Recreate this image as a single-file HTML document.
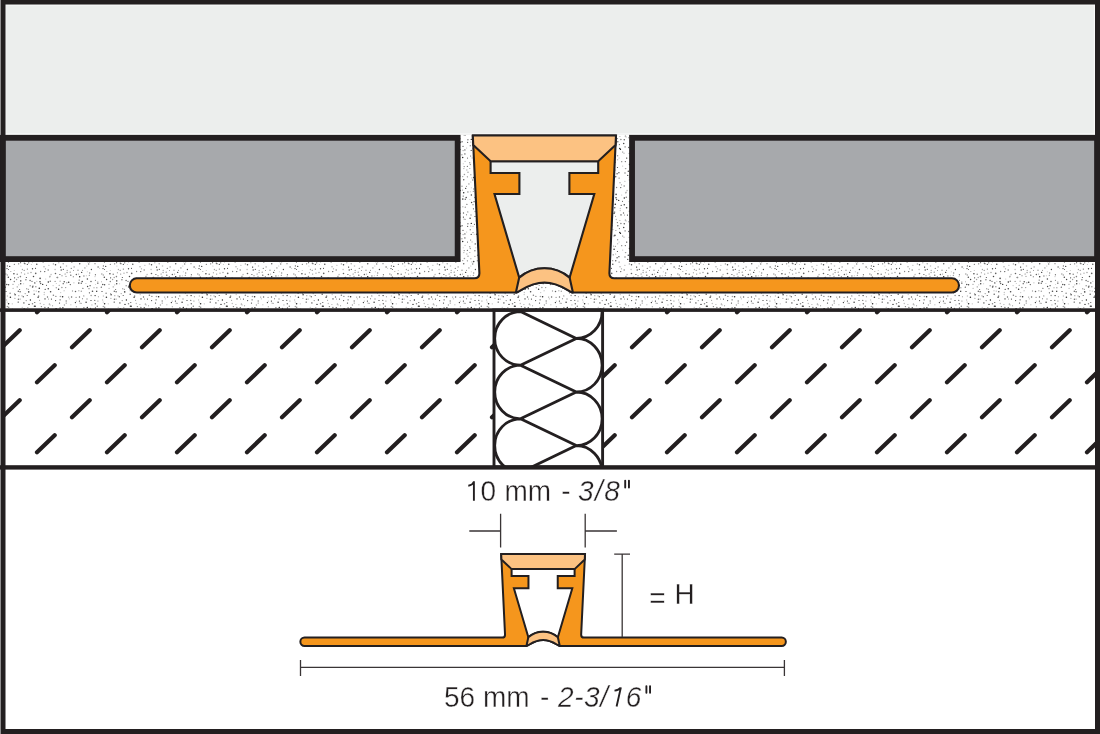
<!DOCTYPE html><html><head><meta charset="utf-8"><style>html,body{margin:0;padding:0;background:#fff;}svg{display:block;will-change:transform}</style></head><body><svg width="1100" height="734" viewBox="0 0 1100 734"><defs><pattern id="st" width="96" height="84" patternUnits="userSpaceOnUse"><rect width="96" height="84" fill="#fff"/><circle cx="3.3" cy="2.9" r="0.57" fill="#282828"/><circle cx="0.2" cy="6.8" r="0.74" fill="#464646"/><circle cx="1.2" cy="8.8" r="0.58" fill="#bebebe"/><circle cx="2.1" cy="15.1" r="0.74" fill="#646464"/><circle cx="3.6" cy="16.2" r="0.55" fill="#bebebe"/><circle cx="1.8" cy="30.1" r="0.69" fill="#828282"/><circle cx="1.9" cy="31.6" r="0.50" fill="#282828"/><circle cx="0.9" cy="35.8" r="0.50" fill="#464646"/><circle cx="0.7" cy="39.3" r="0.76" fill="#464646"/><circle cx="2.4" cy="44.7" r="0.53" fill="#828282"/><circle cx="1.9" cy="49.0" r="0.61" fill="#828282"/><circle cx="1.3" cy="54.2" r="0.74" fill="#828282"/><circle cx="3.6" cy="59.5" r="0.68" fill="#646464"/><circle cx="0.7" cy="62.8" r="0.57" fill="#828282"/><circle cx="0.5" cy="68.4" r="0.56" fill="#282828"/><circle cx="3.2" cy="71.2" r="0.54" fill="#a0a0a0"/><circle cx="3.5" cy="75.8" r="0.67" fill="#464646"/><circle cx="3.4" cy="78.5" r="0.55" fill="#282828"/><circle cx="2.4" cy="82.3" r="0.61" fill="#bebebe"/><circle cx="4.2" cy="3.2" r="0.64" fill="#646464"/><circle cx="5.1" cy="6.6" r="0.51" fill="#a0a0a0"/><circle cx="7.4" cy="13.9" r="0.63" fill="#646464"/><circle cx="7.0" cy="16.6" r="0.68" fill="#464646"/><circle cx="5.8" cy="21.9" r="0.77" fill="#a0a0a0"/><circle cx="7.3" cy="23.1" r="0.73" fill="#a0a0a0"/><circle cx="5.5" cy="29.7" r="0.50" fill="#a0a0a0"/><circle cx="6.8" cy="32.5" r="0.72" fill="#464646"/><circle cx="5.3" cy="35.2" r="0.60" fill="#464646"/><circle cx="6.0" cy="39.5" r="0.58" fill="#282828"/><circle cx="7.4" cy="44.0" r="0.66" fill="#bebebe"/><circle cx="6.6" cy="48.0" r="0.63" fill="#bebebe"/><circle cx="7.2" cy="50.1" r="0.63" fill="#bebebe"/><circle cx="7.3" cy="54.5" r="0.74" fill="#a0a0a0"/><circle cx="6.2" cy="60.8" r="0.60" fill="#a0a0a0"/><circle cx="4.7" cy="61.5" r="0.56" fill="#464646"/><circle cx="4.4" cy="67.2" r="0.64" fill="#bebebe"/><circle cx="6.3" cy="70.0" r="0.79" fill="#a0a0a0"/><circle cx="6.2" cy="73.4" r="0.52" fill="#646464"/><circle cx="6.7" cy="79.4" r="0.72" fill="#bebebe"/><circle cx="6.8" cy="83.4" r="0.66" fill="#282828"/><circle cx="8.0" cy="0.3" r="0.51" fill="#464646"/><circle cx="8.5" cy="6.0" r="0.51" fill="#464646"/><circle cx="8.4" cy="10.2" r="0.51" fill="#646464"/><circle cx="9.7" cy="14.4" r="0.70" fill="#464646"/><circle cx="8.5" cy="17.4" r="0.51" fill="#464646"/><circle cx="10.8" cy="19.5" r="0.60" fill="#a0a0a0"/><circle cx="8.3" cy="25.3" r="0.74" fill="#464646"/><circle cx="10.6" cy="27.4" r="0.73" fill="#464646"/><circle cx="8.6" cy="32.7" r="0.69" fill="#464646"/><circle cx="10.1" cy="41.2" r="0.74" fill="#828282"/><circle cx="10.4" cy="45.2" r="0.77" fill="#282828"/><circle cx="8.6" cy="51.8" r="0.78" fill="#282828"/><circle cx="8.7" cy="55.2" r="0.70" fill="#828282"/><circle cx="8.3" cy="59.7" r="0.75" fill="#282828"/><circle cx="9.2" cy="63.1" r="0.56" fill="#a0a0a0"/><circle cx="9.5" cy="65.4" r="0.73" fill="#464646"/><circle cx="8.9" cy="69.2" r="0.73" fill="#bebebe"/><circle cx="8.3" cy="73.0" r="0.77" fill="#282828"/><circle cx="8.9" cy="79.4" r="0.69" fill="#bebebe"/><circle cx="10.9" cy="81.7" r="0.71" fill="#464646"/><circle cx="14.4" cy="6.8" r="0.70" fill="#646464"/><circle cx="14.3" cy="12.3" r="0.58" fill="#646464"/><circle cx="14.3" cy="18.5" r="0.54" fill="#bebebe"/><circle cx="13.9" cy="21.8" r="0.80" fill="#464646"/><circle cx="14.6" cy="25.8" r="0.62" fill="#464646"/><circle cx="14.3" cy="29.5" r="0.72" fill="#828282"/><circle cx="13.0" cy="32.2" r="0.51" fill="#646464"/><circle cx="13.1" cy="36.4" r="0.72" fill="#bebebe"/><circle cx="14.6" cy="41.5" r="0.62" fill="#a0a0a0"/><circle cx="15.1" cy="42.7" r="0.71" fill="#282828"/><circle cx="14.9" cy="46.4" r="0.53" fill="#a0a0a0"/><circle cx="12.3" cy="51.8" r="0.63" fill="#bebebe"/><circle cx="12.4" cy="56.8" r="0.57" fill="#bebebe"/><circle cx="11.8" cy="62.4" r="0.59" fill="#a0a0a0"/><circle cx="13.3" cy="65.3" r="0.80" fill="#464646"/><circle cx="12.6" cy="70.3" r="0.57" fill="#bebebe"/><circle cx="11.8" cy="74.5" r="0.54" fill="#464646"/><circle cx="13.4" cy="77.2" r="0.70" fill="#464646"/><circle cx="13.5" cy="81.3" r="0.65" fill="#a0a0a0"/><circle cx="16.9" cy="2.9" r="0.76" fill="#828282"/><circle cx="16.0" cy="4.4" r="0.79" fill="#bebebe"/><circle cx="18.9" cy="8.5" r="0.65" fill="#bebebe"/><circle cx="18.7" cy="11.8" r="0.59" fill="#646464"/><circle cx="17.2" cy="22.3" r="0.73" fill="#828282"/><circle cx="18.2" cy="25.5" r="0.75" fill="#a0a0a0"/><circle cx="16.6" cy="27.5" r="0.73" fill="#a0a0a0"/><circle cx="18.7" cy="32.8" r="0.60" fill="#bebebe"/><circle cx="17.3" cy="34.9" r="0.79" fill="#bebebe"/><circle cx="18.3" cy="39.3" r="0.74" fill="#646464"/><circle cx="18.8" cy="43.7" r="0.62" fill="#a0a0a0"/><circle cx="18.4" cy="47.2" r="0.70" fill="#646464"/><circle cx="18.2" cy="50.1" r="0.72" fill="#464646"/><circle cx="17.2" cy="58.9" r="0.72" fill="#828282"/><circle cx="15.8" cy="63.2" r="0.67" fill="#828282"/><circle cx="15.7" cy="66.7" r="0.69" fill="#282828"/><circle cx="16.3" cy="73.4" r="0.76" fill="#828282"/><circle cx="17.1" cy="79.1" r="0.71" fill="#282828"/><circle cx="17.2" cy="82.5" r="0.75" fill="#828282"/><circle cx="21.6" cy="1.6" r="0.67" fill="#464646"/><circle cx="20.7" cy="5.6" r="0.73" fill="#646464"/><circle cx="20.6" cy="10.7" r="0.61" fill="#646464"/><circle cx="20.9" cy="14.1" r="0.51" fill="#bebebe"/><circle cx="22.4" cy="17.5" r="0.67" fill="#a0a0a0"/><circle cx="21.4" cy="20.7" r="0.56" fill="#828282"/><circle cx="20.4" cy="24.6" r="0.80" fill="#828282"/><circle cx="20.7" cy="28.9" r="0.78" fill="#646464"/><circle cx="20.7" cy="31.7" r="0.77" fill="#464646"/><circle cx="19.6" cy="37.5" r="0.59" fill="#646464"/><circle cx="20.1" cy="39.8" r="0.75" fill="#646464"/><circle cx="22.0" cy="43.8" r="0.61" fill="#a0a0a0"/><circle cx="20.1" cy="47.1" r="0.71" fill="#a0a0a0"/><circle cx="22.2" cy="55.2" r="0.52" fill="#a0a0a0"/><circle cx="20.2" cy="59.7" r="0.61" fill="#464646"/><circle cx="21.0" cy="63.1" r="0.69" fill="#828282"/><circle cx="22.7" cy="66.1" r="0.59" fill="#464646"/><circle cx="22.1" cy="75.2" r="0.56" fill="#464646"/><circle cx="20.5" cy="79.2" r="0.65" fill="#a0a0a0"/><circle cx="21.5" cy="83.0" r="0.73" fill="#bebebe"/><circle cx="24.1" cy="1.7" r="0.65" fill="#282828"/><circle cx="25.4" cy="4.5" r="0.54" fill="#282828"/><circle cx="24.2" cy="11.1" r="0.51" fill="#282828"/><circle cx="24.9" cy="11.7" r="0.64" fill="#464646"/><circle cx="24.2" cy="18.2" r="0.56" fill="#646464"/><circle cx="24.7" cy="22.1" r="0.55" fill="#828282"/><circle cx="26.3" cy="25.4" r="0.51" fill="#282828"/><circle cx="25.9" cy="27.7" r="0.79" fill="#828282"/><circle cx="23.6" cy="31.8" r="0.51" fill="#bebebe"/><circle cx="26.7" cy="36.7" r="0.70" fill="#a0a0a0"/><circle cx="25.2" cy="41.6" r="0.68" fill="#a0a0a0"/><circle cx="23.3" cy="44.7" r="0.71" fill="#646464"/><circle cx="26.2" cy="48.6" r="0.60" fill="#828282"/><circle cx="23.9" cy="50.9" r="0.63" fill="#282828"/><circle cx="24.2" cy="56.7" r="0.70" fill="#646464"/><circle cx="23.2" cy="60.2" r="0.57" fill="#bebebe"/><circle cx="26.0" cy="63.6" r="0.56" fill="#464646"/><circle cx="24.2" cy="67.5" r="0.54" fill="#464646"/><circle cx="23.6" cy="70.7" r="0.51" fill="#828282"/><circle cx="23.5" cy="73.7" r="0.73" fill="#828282"/><circle cx="24.3" cy="78.7" r="0.64" fill="#a0a0a0"/><circle cx="25.9" cy="82.6" r="0.72" fill="#bebebe"/><circle cx="29.6" cy="2.6" r="0.62" fill="#282828"/><circle cx="29.5" cy="4.7" r="0.72" fill="#282828"/><circle cx="28.7" cy="10.8" r="0.63" fill="#646464"/><circle cx="27.3" cy="12.4" r="0.58" fill="#464646"/><circle cx="27.3" cy="17.1" r="0.56" fill="#646464"/><circle cx="28.0" cy="21.2" r="0.65" fill="#a0a0a0"/><circle cx="30.1" cy="28.5" r="0.74" fill="#646464"/><circle cx="30.1" cy="33.7" r="0.50" fill="#282828"/><circle cx="28.3" cy="37.2" r="0.52" fill="#646464"/><circle cx="28.7" cy="39.9" r="0.79" fill="#464646"/><circle cx="27.2" cy="43.5" r="0.55" fill="#464646"/><circle cx="30.4" cy="48.0" r="0.69" fill="#282828"/><circle cx="29.0" cy="52.4" r="0.68" fill="#282828"/><circle cx="27.8" cy="55.6" r="0.65" fill="#a0a0a0"/><circle cx="29.2" cy="60.3" r="0.54" fill="#a0a0a0"/><circle cx="28.5" cy="62.2" r="0.61" fill="#828282"/><circle cx="29.4" cy="67.0" r="0.53" fill="#a0a0a0"/><circle cx="27.4" cy="69.8" r="0.55" fill="#a0a0a0"/><circle cx="30.2" cy="72.9" r="0.60" fill="#a0a0a0"/><circle cx="30.3" cy="76.8" r="0.55" fill="#464646"/><circle cx="28.9" cy="82.9" r="0.63" fill="#a0a0a0"/><circle cx="34.3" cy="2.8" r="0.53" fill="#282828"/><circle cx="32.0" cy="6.7" r="0.50" fill="#646464"/><circle cx="32.5" cy="10.1" r="0.65" fill="#bebebe"/><circle cx="31.4" cy="12.6" r="0.52" fill="#bebebe"/><circle cx="32.5" cy="16.7" r="0.68" fill="#464646"/><circle cx="31.0" cy="20.4" r="0.73" fill="#a0a0a0"/><circle cx="33.5" cy="24.5" r="0.77" fill="#464646"/><circle cx="32.0" cy="29.4" r="0.58" fill="#646464"/><circle cx="33.0" cy="34.0" r="0.54" fill="#282828"/><circle cx="32.6" cy="35.0" r="0.79" fill="#464646"/><circle cx="34.0" cy="38.7" r="0.53" fill="#a0a0a0"/><circle cx="34.2" cy="42.3" r="0.78" fill="#646464"/><circle cx="32.5" cy="51.8" r="0.72" fill="#828282"/><circle cx="34.4" cy="54.2" r="0.74" fill="#646464"/><circle cx="34.0" cy="60.9" r="0.58" fill="#646464"/><circle cx="34.2" cy="64.5" r="0.61" fill="#646464"/><circle cx="32.2" cy="67.7" r="0.64" fill="#bebebe"/><circle cx="32.2" cy="70.4" r="0.54" fill="#282828"/><circle cx="32.9" cy="75.0" r="0.74" fill="#282828"/><circle cx="31.7" cy="77.5" r="0.59" fill="#828282"/><circle cx="32.0" cy="82.6" r="0.56" fill="#a0a0a0"/><circle cx="37.2" cy="2.8" r="0.59" fill="#646464"/><circle cx="36.7" cy="8.7" r="0.60" fill="#828282"/><circle cx="36.8" cy="12.2" r="0.71" fill="#464646"/><circle cx="35.5" cy="16.3" r="0.56" fill="#282828"/><circle cx="35.7" cy="21.4" r="0.80" fill="#646464"/><circle cx="36.8" cy="29.3" r="0.60" fill="#bebebe"/><circle cx="34.8" cy="30.9" r="0.67" fill="#282828"/><circle cx="35.9" cy="34.8" r="0.51" fill="#282828"/><circle cx="36.3" cy="39.1" r="0.71" fill="#bebebe"/><circle cx="38.1" cy="45.3" r="0.69" fill="#282828"/><circle cx="34.8" cy="50.6" r="0.51" fill="#282828"/><circle cx="35.1" cy="54.2" r="0.77" fill="#282828"/><circle cx="35.9" cy="57.8" r="0.74" fill="#828282"/><circle cx="36.9" cy="61.6" r="0.58" fill="#a0a0a0"/><circle cx="38.0" cy="67.9" r="0.69" fill="#828282"/><circle cx="35.0" cy="73.2" r="0.71" fill="#828282"/><circle cx="37.5" cy="78.1" r="0.55" fill="#a0a0a0"/><circle cx="38.1" cy="81.2" r="0.76" fill="#282828"/><circle cx="39.7" cy="1.9" r="0.50" fill="#a0a0a0"/><circle cx="41.1" cy="5.7" r="0.76" fill="#646464"/><circle cx="39.7" cy="8.8" r="0.78" fill="#646464"/><circle cx="40.6" cy="19.5" r="0.65" fill="#828282"/><circle cx="40.1" cy="26.4" r="0.78" fill="#464646"/><circle cx="40.0" cy="29.8" r="0.69" fill="#282828"/><circle cx="40.6" cy="31.5" r="0.75" fill="#646464"/><circle cx="39.3" cy="36.2" r="0.79" fill="#282828"/><circle cx="38.8" cy="39.8" r="0.70" fill="#464646"/><circle cx="38.7" cy="44.0" r="0.61" fill="#282828"/><circle cx="39.6" cy="48.3" r="0.55" fill="#828282"/><circle cx="40.3" cy="51.4" r="0.76" fill="#bebebe"/><circle cx="41.4" cy="54.6" r="0.72" fill="#828282"/><circle cx="41.8" cy="57.7" r="0.74" fill="#646464"/><circle cx="39.9" cy="62.5" r="0.52" fill="#828282"/><circle cx="38.9" cy="67.4" r="0.79" fill="#464646"/><circle cx="41.7" cy="71.7" r="0.55" fill="#464646"/><circle cx="41.6" cy="75.8" r="0.69" fill="#bebebe"/><circle cx="39.3" cy="78.3" r="0.59" fill="#828282"/><circle cx="41.4" cy="83.5" r="0.54" fill="#282828"/><circle cx="42.9" cy="4.7" r="0.67" fill="#464646"/><circle cx="43.1" cy="10.1" r="0.59" fill="#646464"/><circle cx="44.0" cy="14.8" r="0.57" fill="#646464"/><circle cx="45.5" cy="16.8" r="0.65" fill="#a0a0a0"/><circle cx="44.8" cy="19.6" r="0.54" fill="#282828"/><circle cx="45.7" cy="27.0" r="0.55" fill="#bebebe"/><circle cx="42.7" cy="32.4" r="0.68" fill="#282828"/><circle cx="45.2" cy="37.3" r="0.67" fill="#464646"/><circle cx="44.3" cy="40.5" r="0.63" fill="#bebebe"/><circle cx="44.2" cy="42.6" r="0.67" fill="#bebebe"/><circle cx="45.0" cy="46.9" r="0.80" fill="#828282"/><circle cx="43.9" cy="52.5" r="0.55" fill="#a0a0a0"/><circle cx="44.9" cy="55.4" r="0.76" fill="#828282"/><circle cx="43.4" cy="60.6" r="0.59" fill="#646464"/><circle cx="43.8" cy="64.5" r="0.78" fill="#282828"/><circle cx="44.5" cy="65.4" r="0.65" fill="#282828"/><circle cx="43.1" cy="74.0" r="0.59" fill="#bebebe"/><circle cx="45.7" cy="77.7" r="0.67" fill="#828282"/><circle cx="49.6" cy="0.6" r="0.76" fill="#a0a0a0"/><circle cx="49.0" cy="5.0" r="0.77" fill="#828282"/><circle cx="48.9" cy="13.2" r="0.54" fill="#a0a0a0"/><circle cx="48.2" cy="18.0" r="0.76" fill="#828282"/><circle cx="49.7" cy="24.7" r="0.73" fill="#a0a0a0"/><circle cx="48.3" cy="30.0" r="0.74" fill="#282828"/><circle cx="46.5" cy="33.2" r="0.56" fill="#464646"/><circle cx="48.3" cy="36.7" r="0.78" fill="#464646"/><circle cx="47.5" cy="45.0" r="0.66" fill="#646464"/><circle cx="48.5" cy="47.0" r="0.53" fill="#828282"/><circle cx="49.3" cy="51.9" r="0.52" fill="#464646"/><circle cx="48.3" cy="55.7" r="0.79" fill="#646464"/><circle cx="47.7" cy="59.6" r="0.77" fill="#464646"/><circle cx="49.1" cy="62.9" r="0.79" fill="#a0a0a0"/><circle cx="46.7" cy="68.0" r="0.59" fill="#646464"/><circle cx="48.0" cy="69.2" r="0.74" fill="#bebebe"/><circle cx="49.3" cy="77.6" r="0.54" fill="#464646"/><circle cx="46.7" cy="82.1" r="0.57" fill="#bebebe"/><circle cx="52.3" cy="3.3" r="0.74" fill="#464646"/><circle cx="51.8" cy="7.4" r="0.53" fill="#282828"/><circle cx="53.3" cy="9.2" r="0.58" fill="#bebebe"/><circle cx="53.3" cy="11.9" r="0.56" fill="#828282"/><circle cx="51.1" cy="22.4" r="0.77" fill="#bebebe"/><circle cx="50.1" cy="24.4" r="0.79" fill="#bebebe"/><circle cx="50.3" cy="29.3" r="0.78" fill="#828282"/><circle cx="53.1" cy="33.6" r="0.61" fill="#bebebe"/><circle cx="50.6" cy="39.7" r="0.80" fill="#464646"/><circle cx="53.4" cy="43.2" r="0.80" fill="#828282"/><circle cx="51.4" cy="47.1" r="0.54" fill="#282828"/><circle cx="50.1" cy="52.9" r="0.68" fill="#bebebe"/><circle cx="52.6" cy="53.8" r="0.53" fill="#828282"/><circle cx="52.7" cy="63.5" r="0.68" fill="#646464"/><circle cx="53.2" cy="69.3" r="0.66" fill="#828282"/><circle cx="50.7" cy="74.1" r="0.66" fill="#282828"/><circle cx="53.4" cy="79.1" r="0.60" fill="#bebebe"/><circle cx="53.5" cy="80.4" r="0.73" fill="#282828"/><circle cx="55.5" cy="2.0" r="0.68" fill="#646464"/><circle cx="55.3" cy="6.5" r="0.64" fill="#bebebe"/><circle cx="55.2" cy="9.5" r="0.58" fill="#464646"/><circle cx="55.5" cy="12.7" r="0.75" fill="#464646"/><circle cx="55.1" cy="17.6" r="0.77" fill="#bebebe"/><circle cx="55.5" cy="21.5" r="0.79" fill="#646464"/><circle cx="57.3" cy="25.4" r="0.74" fill="#282828"/><circle cx="55.1" cy="29.4" r="0.58" fill="#828282"/><circle cx="56.3" cy="31.4" r="0.52" fill="#bebebe"/><circle cx="56.3" cy="35.7" r="0.70" fill="#a0a0a0"/><circle cx="55.9" cy="44.3" r="0.63" fill="#646464"/><circle cx="55.6" cy="48.6" r="0.61" fill="#464646"/><circle cx="56.1" cy="56.8" r="0.77" fill="#282828"/><circle cx="54.9" cy="59.9" r="0.61" fill="#282828"/><circle cx="55.6" cy="63.1" r="0.71" fill="#282828"/><circle cx="55.3" cy="67.4" r="0.60" fill="#828282"/><circle cx="55.5" cy="70.9" r="0.51" fill="#282828"/><circle cx="55.3" cy="73.0" r="0.70" fill="#646464"/><circle cx="55.2" cy="76.9" r="0.69" fill="#828282"/><circle cx="54.4" cy="81.6" r="0.65" fill="#282828"/><circle cx="58.9" cy="1.1" r="0.71" fill="#646464"/><circle cx="60.5" cy="4.5" r="0.67" fill="#bebebe"/><circle cx="58.8" cy="10.7" r="0.72" fill="#bebebe"/><circle cx="60.6" cy="15.1" r="0.68" fill="#282828"/><circle cx="61.2" cy="18.0" r="0.69" fill="#464646"/><circle cx="59.9" cy="22.5" r="0.59" fill="#464646"/><circle cx="57.9" cy="25.5" r="0.63" fill="#bebebe"/><circle cx="60.1" cy="29.2" r="0.64" fill="#a0a0a0"/><circle cx="59.2" cy="33.3" r="0.56" fill="#828282"/><circle cx="58.6" cy="37.3" r="0.75" fill="#282828"/><circle cx="60.7" cy="40.6" r="0.56" fill="#bebebe"/><circle cx="60.4" cy="44.6" r="0.75" fill="#a0a0a0"/><circle cx="60.1" cy="47.8" r="0.60" fill="#464646"/><circle cx="59.5" cy="51.1" r="0.63" fill="#464646"/><circle cx="60.1" cy="56.0" r="0.80" fill="#646464"/><circle cx="58.1" cy="58.8" r="0.79" fill="#464646"/><circle cx="60.8" cy="66.8" r="0.74" fill="#828282"/><circle cx="59.5" cy="69.6" r="0.59" fill="#646464"/><circle cx="61.2" cy="73.9" r="0.57" fill="#bebebe"/><circle cx="61.1" cy="79.5" r="0.69" fill="#bebebe"/><circle cx="58.5" cy="80.7" r="0.53" fill="#828282"/><circle cx="64.8" cy="2.0" r="0.80" fill="#646464"/><circle cx="62.1" cy="5.9" r="0.55" fill="#a0a0a0"/><circle cx="62.8" cy="8.5" r="0.53" fill="#282828"/><circle cx="63.2" cy="11.7" r="0.71" fill="#a0a0a0"/><circle cx="63.3" cy="17.3" r="0.64" fill="#464646"/><circle cx="65.1" cy="22.0" r="0.52" fill="#646464"/><circle cx="62.0" cy="23.8" r="0.57" fill="#646464"/><circle cx="64.2" cy="29.8" r="0.71" fill="#464646"/><circle cx="63.2" cy="31.7" r="0.63" fill="#464646"/><circle cx="61.9" cy="35.5" r="0.64" fill="#828282"/><circle cx="64.1" cy="38.7" r="0.55" fill="#a0a0a0"/><circle cx="62.6" cy="44.8" r="0.80" fill="#282828"/><circle cx="64.4" cy="53.0" r="0.68" fill="#a0a0a0"/><circle cx="62.9" cy="55.8" r="0.76" fill="#464646"/><circle cx="61.6" cy="57.9" r="0.76" fill="#646464"/><circle cx="65.1" cy="61.5" r="0.61" fill="#282828"/><circle cx="61.9" cy="66.5" r="0.69" fill="#a0a0a0"/><circle cx="63.2" cy="69.6" r="0.79" fill="#828282"/><circle cx="63.5" cy="73.0" r="0.57" fill="#646464"/><circle cx="62.3" cy="81.8" r="0.60" fill="#646464"/><circle cx="65.5" cy="0.5" r="0.74" fill="#646464"/><circle cx="67.0" cy="4.9" r="0.66" fill="#bebebe"/><circle cx="68.3" cy="8.9" r="0.51" fill="#464646"/><circle cx="66.5" cy="13.9" r="0.76" fill="#bebebe"/><circle cx="67.2" cy="18.4" r="0.64" fill="#a0a0a0"/><circle cx="67.1" cy="20.4" r="0.73" fill="#a0a0a0"/><circle cx="66.0" cy="24.4" r="0.64" fill="#a0a0a0"/><circle cx="68.7" cy="30.2" r="0.72" fill="#282828"/><circle cx="66.8" cy="30.7" r="0.75" fill="#a0a0a0"/><circle cx="65.7" cy="35.6" r="0.60" fill="#828282"/><circle cx="68.6" cy="45.1" r="0.69" fill="#a0a0a0"/><circle cx="66.2" cy="49.0" r="0.73" fill="#828282"/><circle cx="66.2" cy="51.1" r="0.60" fill="#828282"/><circle cx="67.0" cy="58.5" r="0.62" fill="#464646"/><circle cx="67.6" cy="63.0" r="0.56" fill="#464646"/><circle cx="67.2" cy="66.7" r="0.71" fill="#646464"/><circle cx="68.3" cy="71.2" r="0.72" fill="#a0a0a0"/><circle cx="67.9" cy="73.6" r="0.58" fill="#828282"/><circle cx="65.5" cy="78.8" r="0.72" fill="#282828"/><circle cx="65.9" cy="82.6" r="0.75" fill="#828282"/><circle cx="70.2" cy="1.8" r="0.55" fill="#282828"/><circle cx="70.5" cy="6.3" r="0.66" fill="#bebebe"/><circle cx="71.8" cy="10.4" r="0.72" fill="#a0a0a0"/><circle cx="71.3" cy="16.4" r="0.63" fill="#828282"/><circle cx="70.2" cy="20.2" r="0.61" fill="#828282"/><circle cx="70.8" cy="23.2" r="0.64" fill="#464646"/><circle cx="70.3" cy="32.6" r="0.61" fill="#464646"/><circle cx="72.5" cy="39.0" r="0.63" fill="#a0a0a0"/><circle cx="71.6" cy="44.9" r="0.73" fill="#646464"/><circle cx="69.4" cy="46.8" r="0.65" fill="#bebebe"/><circle cx="70.9" cy="52.7" r="0.51" fill="#a0a0a0"/><circle cx="70.3" cy="57.1" r="0.57" fill="#828282"/><circle cx="71.6" cy="58.0" r="0.75" fill="#282828"/><circle cx="71.7" cy="61.8" r="0.76" fill="#828282"/><circle cx="72.2" cy="66.0" r="0.53" fill="#464646"/><circle cx="71.0" cy="70.6" r="0.73" fill="#a0a0a0"/><circle cx="71.0" cy="74.3" r="0.62" fill="#646464"/><circle cx="70.3" cy="77.5" r="0.57" fill="#282828"/><circle cx="70.0" cy="82.2" r="0.59" fill="#a0a0a0"/><circle cx="74.4" cy="1.9" r="0.70" fill="#a0a0a0"/><circle cx="74.6" cy="5.6" r="0.62" fill="#bebebe"/><circle cx="76.4" cy="8.1" r="0.56" fill="#a0a0a0"/><circle cx="74.1" cy="14.9" r="0.62" fill="#828282"/><circle cx="73.5" cy="18.5" r="0.53" fill="#828282"/><circle cx="76.4" cy="22.4" r="0.75" fill="#646464"/><circle cx="73.3" cy="24.7" r="0.52" fill="#464646"/><circle cx="73.9" cy="30.8" r="0.65" fill="#bebebe"/><circle cx="75.5" cy="39.6" r="0.75" fill="#646464"/><circle cx="76.1" cy="45.4" r="0.69" fill="#a0a0a0"/><circle cx="76.3" cy="49.2" r="0.60" fill="#bebebe"/><circle cx="75.4" cy="50.6" r="0.67" fill="#282828"/><circle cx="76.3" cy="54.8" r="0.56" fill="#828282"/><circle cx="76.6" cy="58.2" r="0.64" fill="#282828"/><circle cx="73.2" cy="62.3" r="0.75" fill="#828282"/><circle cx="76.0" cy="65.6" r="0.68" fill="#282828"/><circle cx="75.5" cy="70.0" r="0.62" fill="#282828"/><circle cx="73.8" cy="75.8" r="0.77" fill="#464646"/><circle cx="75.5" cy="78.2" r="0.58" fill="#464646"/><circle cx="74.3" cy="82.4" r="0.78" fill="#646464"/><circle cx="79.8" cy="0.6" r="0.72" fill="#bebebe"/><circle cx="80.4" cy="6.5" r="0.79" fill="#a0a0a0"/><circle cx="78.8" cy="8.6" r="0.53" fill="#828282"/><circle cx="79.7" cy="11.7" r="0.78" fill="#646464"/><circle cx="78.0" cy="18.3" r="0.77" fill="#a0a0a0"/><circle cx="78.6" cy="22.1" r="0.61" fill="#a0a0a0"/><circle cx="79.7" cy="24.7" r="0.77" fill="#282828"/><circle cx="79.2" cy="28.1" r="0.66" fill="#646464"/><circle cx="78.8" cy="31.1" r="0.80" fill="#464646"/><circle cx="78.8" cy="38.8" r="0.75" fill="#bebebe"/><circle cx="79.5" cy="45.0" r="0.66" fill="#646464"/><circle cx="79.4" cy="49.1" r="0.58" fill="#282828"/><circle cx="80.0" cy="51.0" r="0.62" fill="#a0a0a0"/><circle cx="78.1" cy="57.8" r="0.73" fill="#646464"/><circle cx="79.0" cy="62.3" r="0.61" fill="#464646"/><circle cx="79.1" cy="66.6" r="0.67" fill="#a0a0a0"/><circle cx="77.9" cy="70.7" r="0.71" fill="#a0a0a0"/><circle cx="78.7" cy="73.6" r="0.73" fill="#282828"/><circle cx="79.2" cy="79.7" r="0.53" fill="#bebebe"/><circle cx="80.2" cy="82.6" r="0.68" fill="#828282"/><circle cx="82.8" cy="2.1" r="0.77" fill="#bebebe"/><circle cx="84.0" cy="4.2" r="0.73" fill="#a0a0a0"/><circle cx="83.4" cy="8.8" r="0.64" fill="#828282"/><circle cx="82.5" cy="18.4" r="0.58" fill="#a0a0a0"/><circle cx="81.7" cy="20.3" r="0.67" fill="#282828"/><circle cx="83.9" cy="24.0" r="0.72" fill="#828282"/><circle cx="82.2" cy="29.6" r="0.77" fill="#464646"/><circle cx="81.3" cy="31.3" r="0.73" fill="#646464"/><circle cx="82.9" cy="36.3" r="0.54" fill="#282828"/><circle cx="81.3" cy="39.3" r="0.74" fill="#a0a0a0"/><circle cx="83.8" cy="43.9" r="0.61" fill="#828282"/><circle cx="82.5" cy="46.8" r="0.55" fill="#646464"/><circle cx="81.1" cy="51.4" r="0.71" fill="#a0a0a0"/><circle cx="83.9" cy="55.8" r="0.77" fill="#828282"/><circle cx="83.6" cy="58.4" r="0.66" fill="#646464"/><circle cx="82.6" cy="64.0" r="0.59" fill="#bebebe"/><circle cx="80.9" cy="65.9" r="0.55" fill="#282828"/><circle cx="80.9" cy="69.9" r="0.67" fill="#464646"/><circle cx="83.5" cy="74.1" r="0.57" fill="#646464"/><circle cx="81.1" cy="77.4" r="0.65" fill="#bebebe"/><circle cx="83.4" cy="82.3" r="0.66" fill="#646464"/><circle cx="85.8" cy="0.5" r="0.56" fill="#a0a0a0"/><circle cx="86.9" cy="6.7" r="0.51" fill="#646464"/><circle cx="87.9" cy="9.9" r="0.66" fill="#bebebe"/><circle cx="86.8" cy="14.0" r="0.55" fill="#bebebe"/><circle cx="84.9" cy="15.9" r="0.64" fill="#828282"/><circle cx="87.3" cy="19.7" r="0.50" fill="#bebebe"/><circle cx="86.4" cy="23.8" r="0.56" fill="#bebebe"/><circle cx="87.4" cy="27.1" r="0.75" fill="#464646"/><circle cx="85.9" cy="31.5" r="0.55" fill="#bebebe"/><circle cx="87.6" cy="34.6" r="0.74" fill="#464646"/><circle cx="87.0" cy="47.1" r="0.76" fill="#a0a0a0"/><circle cx="86.1" cy="50.2" r="0.69" fill="#282828"/><circle cx="87.3" cy="55.4" r="0.70" fill="#282828"/><circle cx="86.8" cy="58.1" r="0.71" fill="#bebebe"/><circle cx="86.2" cy="61.7" r="0.53" fill="#282828"/><circle cx="87.2" cy="66.4" r="0.62" fill="#464646"/><circle cx="86.7" cy="72.1" r="0.51" fill="#464646"/><circle cx="88.1" cy="73.9" r="0.72" fill="#bebebe"/><circle cx="85.7" cy="78.7" r="0.76" fill="#a0a0a0"/><circle cx="86.3" cy="80.5" r="0.75" fill="#a0a0a0"/><circle cx="90.9" cy="4.4" r="0.66" fill="#a0a0a0"/><circle cx="89.7" cy="9.6" r="0.79" fill="#464646"/><circle cx="88.7" cy="12.1" r="0.76" fill="#828282"/><circle cx="91.4" cy="17.5" r="0.67" fill="#464646"/><circle cx="89.7" cy="21.0" r="0.64" fill="#828282"/><circle cx="89.3" cy="23.2" r="0.53" fill="#646464"/><circle cx="91.0" cy="29.5" r="0.63" fill="#464646"/><circle cx="90.1" cy="33.7" r="0.65" fill="#464646"/><circle cx="89.0" cy="36.7" r="0.65" fill="#828282"/><circle cx="89.4" cy="40.8" r="0.60" fill="#464646"/><circle cx="91.1" cy="43.5" r="0.64" fill="#828282"/><circle cx="91.0" cy="48.5" r="0.60" fill="#282828"/><circle cx="91.9" cy="52.9" r="0.70" fill="#bebebe"/><circle cx="90.4" cy="56.2" r="0.54" fill="#282828"/><circle cx="89.0" cy="58.3" r="0.67" fill="#bebebe"/><circle cx="89.0" cy="64.6" r="0.60" fill="#828282"/><circle cx="90.2" cy="66.3" r="0.53" fill="#bebebe"/><circle cx="91.2" cy="75.9" r="0.61" fill="#282828"/><circle cx="91.8" cy="79.7" r="0.55" fill="#bebebe"/><circle cx="90.9" cy="82.8" r="0.75" fill="#828282"/><circle cx="93.6" cy="3.2" r="0.77" fill="#828282"/><circle cx="95.0" cy="5.0" r="0.56" fill="#a0a0a0"/><circle cx="93.3" cy="8.7" r="0.53" fill="#464646"/><circle cx="95.0" cy="11.7" r="0.64" fill="#828282"/><circle cx="95.5" cy="22.7" r="0.76" fill="#828282"/><circle cx="95.0" cy="24.6" r="0.55" fill="#bebebe"/><circle cx="95.4" cy="28.3" r="0.52" fill="#646464"/><circle cx="95.8" cy="32.5" r="0.57" fill="#bebebe"/><circle cx="94.0" cy="35.8" r="0.57" fill="#828282"/><circle cx="92.5" cy="39.2" r="0.79" fill="#464646"/><circle cx="95.1" cy="43.6" r="0.68" fill="#282828"/><circle cx="94.7" cy="48.4" r="0.72" fill="#828282"/><circle cx="95.3" cy="51.8" r="0.70" fill="#646464"/><circle cx="95.6" cy="55.9" r="0.77" fill="#646464"/><circle cx="92.7" cy="59.3" r="0.53" fill="#464646"/><circle cx="95.0" cy="61.5" r="0.61" fill="#a0a0a0"/><circle cx="92.6" cy="66.3" r="0.76" fill="#464646"/><circle cx="94.8" cy="72.3" r="0.51" fill="#282828"/><circle cx="94.9" cy="75.2" r="0.52" fill="#828282"/><circle cx="94.5" cy="81.3" r="0.50" fill="#282828"/></pattern><clipPath id="cc"><rect x="5" y="310" width="1090" height="157"/></clipPath><clipPath id="fc"><rect x="494" y="310" width="109" height="157"/></clipPath></defs><rect width="1100" height="734" fill="#fff"/><rect x="5" y="4" width="1090" height="131" fill="#eceeed"/><rect x="5" y="133.3" width="1090" height="1.2" fill="#f8f8f8"/><rect x="5" y="4" width="1.2" height="131" fill="#f8f8f8"/><rect x="5" y="4.6" width="1090" height="1.1" fill="#f8f8f8"/><rect x="1093.9" y="4" width="1.1" height="131" fill="#f8f8f8"/><rect x="5" y="135" width="1090" height="175" fill="url(#st)"/><rect x="2.75" y="137.8" width="454.9" height="121.3" fill="#a7a9ac" stroke="#231f20" stroke-width="5.8"/><rect x="632.05" y="137.8" width="465" height="121.3" fill="#a7a9ac" stroke="#231f20" stroke-width="5.8"/><rect x="0" y="310" width="1100" height="157.3" fill="#fff"/><g clip-path="url(#cc)"><path d="M-68.0,207.2l17.7,-17M2.0,207.2l17.7,-17M72.0,207.2l17.7,-17M142.0,207.2l17.7,-17M212.0,207.2l17.7,-17M282.0,207.2l17.7,-17M352.0,207.2l17.7,-17M422.0,207.2l17.7,-17M492.0,207.2l17.7,-17M562.0,207.2l17.7,-17M632.0,207.2l17.7,-17M702.0,207.2l17.7,-17M772.0,207.2l17.7,-17M842.0,207.2l17.7,-17M912.0,207.2l17.7,-17M982.0,207.2l17.7,-17M1052.0,207.2l17.7,-17M1122.0,207.2l17.7,-17M-68.0,277.2l17.7,-17M2.0,277.2l17.7,-17M72.0,277.2l17.7,-17M142.0,277.2l17.7,-17M212.0,277.2l17.7,-17M282.0,277.2l17.7,-17M352.0,277.2l17.7,-17M422.0,277.2l17.7,-17M492.0,277.2l17.7,-17M562.0,277.2l17.7,-17M632.0,277.2l17.7,-17M702.0,277.2l17.7,-17M772.0,277.2l17.7,-17M842.0,277.2l17.7,-17M912.0,277.2l17.7,-17M982.0,277.2l17.7,-17M1052.0,277.2l17.7,-17M1122.0,277.2l17.7,-17M-68.0,347.2l17.7,-17M2.0,347.2l17.7,-17M72.0,347.2l17.7,-17M142.0,347.2l17.7,-17M212.0,347.2l17.7,-17M282.0,347.2l17.7,-17M352.0,347.2l17.7,-17M422.0,347.2l17.7,-17M492.0,347.2l17.7,-17M562.0,347.2l17.7,-17M632.0,347.2l17.7,-17M702.0,347.2l17.7,-17M772.0,347.2l17.7,-17M842.0,347.2l17.7,-17M912.0,347.2l17.7,-17M982.0,347.2l17.7,-17M1052.0,347.2l17.7,-17M1122.0,347.2l17.7,-17M-68.0,417.2l17.7,-17M2.0,417.2l17.7,-17M72.0,417.2l17.7,-17M142.0,417.2l17.7,-17M212.0,417.2l17.7,-17M282.0,417.2l17.7,-17M352.0,417.2l17.7,-17M422.0,417.2l17.7,-17M492.0,417.2l17.7,-17M562.0,417.2l17.7,-17M632.0,417.2l17.7,-17M702.0,417.2l17.7,-17M772.0,417.2l17.7,-17M842.0,417.2l17.7,-17M912.0,417.2l17.7,-17M982.0,417.2l17.7,-17M1052.0,417.2l17.7,-17M1122.0,417.2l17.7,-17M-68.0,487.2l17.7,-17M2.0,487.2l17.7,-17M72.0,487.2l17.7,-17M142.0,487.2l17.7,-17M212.0,487.2l17.7,-17M282.0,487.2l17.7,-17M352.0,487.2l17.7,-17M422.0,487.2l17.7,-17M492.0,487.2l17.7,-17M562.0,487.2l17.7,-17M632.0,487.2l17.7,-17M702.0,487.2l17.7,-17M772.0,487.2l17.7,-17M842.0,487.2l17.7,-17M912.0,487.2l17.7,-17M982.0,487.2l17.7,-17M1052.0,487.2l17.7,-17M1122.0,487.2l17.7,-17M-33.0,242.2l17.7,-17M37.0,242.2l17.7,-17M107.0,242.2l17.7,-17M177.0,242.2l17.7,-17M247.0,242.2l17.7,-17M317.0,242.2l17.7,-17M387.0,242.2l17.7,-17M457.0,242.2l17.7,-17M527.0,242.2l17.7,-17M597.0,242.2l17.7,-17M667.0,242.2l17.7,-17M737.0,242.2l17.7,-17M807.0,242.2l17.7,-17M877.0,242.2l17.7,-17M947.0,242.2l17.7,-17M1017.0,242.2l17.7,-17M1087.0,242.2l17.7,-17M1157.0,242.2l17.7,-17M-33.0,312.2l17.7,-17M37.0,312.2l17.7,-17M107.0,312.2l17.7,-17M177.0,312.2l17.7,-17M247.0,312.2l17.7,-17M317.0,312.2l17.7,-17M387.0,312.2l17.7,-17M457.0,312.2l17.7,-17M527.0,312.2l17.7,-17M597.0,312.2l17.7,-17M667.0,312.2l17.7,-17M737.0,312.2l17.7,-17M807.0,312.2l17.7,-17M877.0,312.2l17.7,-17M947.0,312.2l17.7,-17M1017.0,312.2l17.7,-17M1087.0,312.2l17.7,-17M1157.0,312.2l17.7,-17M-33.0,382.2l17.7,-17M37.0,382.2l17.7,-17M107.0,382.2l17.7,-17M177.0,382.2l17.7,-17M247.0,382.2l17.7,-17M317.0,382.2l17.7,-17M387.0,382.2l17.7,-17M457.0,382.2l17.7,-17M527.0,382.2l17.7,-17M597.0,382.2l17.7,-17M667.0,382.2l17.7,-17M737.0,382.2l17.7,-17M807.0,382.2l17.7,-17M877.0,382.2l17.7,-17M947.0,382.2l17.7,-17M1017.0,382.2l17.7,-17M1087.0,382.2l17.7,-17M1157.0,382.2l17.7,-17M-33.0,452.2l17.7,-17M37.0,452.2l17.7,-17M107.0,452.2l17.7,-17M177.0,452.2l17.7,-17M247.0,452.2l17.7,-17M317.0,452.2l17.7,-17M387.0,452.2l17.7,-17M457.0,452.2l17.7,-17M527.0,452.2l17.7,-17M597.0,452.2l17.7,-17M667.0,452.2l17.7,-17M737.0,452.2l17.7,-17M807.0,452.2l17.7,-17M877.0,452.2l17.7,-17M947.0,452.2l17.7,-17M1017.0,452.2l17.7,-17M1087.0,452.2l17.7,-17M1157.0,452.2l17.7,-17M-33.0,522.2l17.7,-17M37.0,522.2l17.7,-17M107.0,522.2l17.7,-17M177.0,522.2l17.7,-17M247.0,522.2l17.7,-17M317.0,522.2l17.7,-17M387.0,522.2l17.7,-17M457.0,522.2l17.7,-17M527.0,522.2l17.7,-17M597.0,522.2l17.7,-17M667.0,522.2l17.7,-17M737.0,522.2l17.7,-17M807.0,522.2l17.7,-17M877.0,522.2l17.7,-17M947.0,522.2l17.7,-17M1017.0,522.2l17.7,-17M1087.0,522.2l17.7,-17M1157.0,522.2l17.7,-17" stroke="#231f20" stroke-width="4.2" stroke-linecap="round" fill="none"/></g><rect x="494" y="310" width="108.6" height="157" fill="#fff" stroke="#231f20" stroke-width="2.9"/><g clip-path="url(#fc)"><path d="M520.50,311.60 L576.30,338.40 L520.50,365.20 L576.30,392.00 L520.50,418.80 L576.30,445.60 L520.50,472.40 M520.50,311.60 A25.8,26.8 0 0 0 520.50,365.20 M520.50,365.20 A25.8,26.8 0 0 0 520.50,418.80 M520.50,418.80 A25.8,26.8 0 0 0 520.50,472.40 M576.30,284.80 A25.8,26.8 0 0 1 576.30,338.40 M576.30,338.40 A25.8,26.8 0 0 1 576.30,392.00 M576.30,392.00 A25.8,26.8 0 0 1 576.30,445.60 M576.30,445.60 A25.8,26.8 0 0 1 576.30,499.20" stroke="#231f20" stroke-width="2.8" fill="none"/></g><rect x="0" y="308.3" width="1100" height="3.6" fill="#231f20"/><rect x="0" y="465.2" width="1100" height="4.4" fill="#231f20"/><path d="M472.80,135.5L616.00,135.5L609.40,273.30Q609.40,278.30 614.40,278.30L951.90,278.30A7.10,7.10 0 0 1 951.90,292.50L572.90,292.50C569.40,292.50 560.40,282.50 544.40,282.50C528.40,282.50 519.40,292.50 515.90,292.50L136.90,292.50A7.10,7.10 0 0 1 136.90,278.30L474.40,278.30Q479.40,278.30 479.40,273.30Z" fill="#f5961d" stroke="#231f20" stroke-width="2.1" stroke-linejoin="round"/><path d="M490.60,161.30 L598.20,161.30 L598.20,173.00 L569.40,173.00 L569.40,194.00 L594.30,194.00 L569.60,277.60 A38.48,38.48 0 0 0 519.20,277.60 L494.50,194.00 L519.40,194.00 L519.40,173.00 L490.60,173.00Z" fill="#eceeed" stroke="#231f20" stroke-width="2.1" stroke-linejoin="miter"/><path d="M472.80,135.50 L616.00,135.50 L615.56,145.00 L598.20,161.30 L490.60,161.30 L473.24,145.00Z" fill="#fcc282" stroke="#231f20" stroke-width="2.1" stroke-linejoin="miter"/><path d="M519.20,277.60 A38.48,38.48 0 0 1 569.60,277.60 L572.90,292.50 C569.40,292.50 560.40,282.50 544.40,282.50 C528.40,282.50 519.40,292.50 515.90,292.50Z" fill="#fcc282" stroke="#231f20" stroke-width="2.1" stroke-linejoin="round"/><g transform="translate(224.354,474.665) scale(0.5855)"><path d="M472.80,135.5L616.00,135.5L609.40,273.30Q609.40,278.30 614.40,278.30L951.90,278.30A7.10,7.10 0 0 1 951.90,292.50L572.90,292.50C569.40,292.50 560.40,282.50 544.40,282.50C528.40,282.50 519.40,292.50 515.90,292.50L136.90,292.50A7.10,7.10 0 0 1 136.90,278.30L474.40,278.30Q479.40,278.30 479.40,273.30Z" fill="#f5961d" stroke="#231f20" stroke-width="3.4158838599487615" stroke-linejoin="round"/><path d="M490.60,161.30 L598.20,161.30 L598.20,173.00 L569.40,173.00 L569.40,194.00 L594.30,194.00 L569.60,277.60 A38.48,38.48 0 0 0 519.20,277.60 L494.50,194.00 L519.40,194.00 L519.40,173.00 L490.60,173.00Z" fill="#fff" stroke="#231f20" stroke-width="3.4158838599487615" stroke-linejoin="miter"/><path d="M472.80,135.50 L616.00,135.50 L615.56,145.00 L598.20,161.30 L490.60,161.30 L473.24,145.00Z" fill="#fcc282" stroke="#231f20" stroke-width="3.4158838599487615" stroke-linejoin="miter"/><path d="M519.20,277.60 A38.48,38.48 0 0 1 569.60,277.60 L572.90,292.50 C569.40,292.50 560.40,282.50 544.40,282.50 C528.40,282.50 519.40,292.50 515.90,292.50Z" fill="#fcc282" stroke="#231f20" stroke-width="3.4158838599487615" stroke-linejoin="round"/></g><g stroke="#3a3536" stroke-width="1.3" fill="none"><path d="M469.3,531H500.6M500.6,513.8V547.6M585.2,513.8V547.6M585.2,531H616.9"/><path d="M614.2,554.2H630M622.2,554.2V637"/><path d="M300.5,667.4H784.4M300.5,660V676M784.4,660V676"/></g><text transform="translate(480.4,500.9) scale(1,1.05)" style="font-family:&quot;Liberation Sans&quot;,sans-serif;font-size:28px;" fill="#231f20" stroke="#fff" stroke-width="0.35" paint-order="fill stroke">0</text><path d="M473.9,481.3V500.7M473.9,481.6Q472.8,485.3 468.3,485.7" stroke="#231f20" stroke-width="1.9" fill="none"/><text transform="translate(504.4,500.9) scale(1,1.05)" style="font-family:&quot;Liberation Sans&quot;,sans-serif;font-size:28px;" fill="#231f20" stroke="#fff" stroke-width="0.35" paint-order="fill stroke">mm</text><text transform="translate(561.3,500.9) scale(1,1.05)" style="font-family:&quot;Liberation Sans&quot;,sans-serif;font-size:28px;" fill="#231f20" stroke="#fff" stroke-width="0.35" paint-order="fill stroke">-</text><text transform="translate(578.1,500.9) scale(1,1.05)" style="font-family:&quot;Liberation Sans&quot;,sans-serif;font-size:28px;font-style:italic;letter-spacing:1.35px;" fill="#231f20" stroke="#fff" stroke-width="0.35" paint-order="fill stroke">3/8</text><path d="M625.2,480.6V487.5M628.95,480.6V487.5" stroke="#231f20" stroke-width="1.9" stroke-linecap="round" fill="none"/><text transform="translate(649.2,608.0) scale(1,1.05)" style="font-family:&quot;Liberation Sans&quot;,sans-serif;font-size:28px;" fill="#231f20" stroke="#fff" stroke-width="0.35" paint-order="fill stroke">=</text><text transform="translate(674.4,604.4) scale(1,1.05)" style="font-family:&quot;Liberation Sans&quot;,sans-serif;font-size:28px;" fill="#231f20" stroke="#fff" stroke-width="0.35" paint-order="fill stroke">H</text><text transform="translate(444,706.8) scale(1,1.05)" style="font-family:&quot;Liberation Sans&quot;,sans-serif;font-size:28px;" fill="#231f20" stroke="#fff" stroke-width="0.35" paint-order="fill stroke">56</text><text transform="translate(483,706.8) scale(1,1.05)" style="font-family:&quot;Liberation Sans&quot;,sans-serif;font-size:28px;" fill="#231f20" stroke="#fff" stroke-width="0.35" paint-order="fill stroke">mm</text><text transform="translate(540,706.8) scale(1,1.05)" style="font-family:&quot;Liberation Sans&quot;,sans-serif;font-size:28px;" fill="#231f20" stroke="#fff" stroke-width="0.35" paint-order="fill stroke">-</text><text transform="translate(558,706.8) scale(1,1.05)" style="font-family:&quot;Liberation Sans&quot;,sans-serif;font-size:28px;font-style:italic;letter-spacing:0.6px;" fill="#231f20" stroke="#fff" stroke-width="0.35" paint-order="fill stroke">2-3/</text><text transform="translate(625.8,706.8) scale(1,1.05)" style="font-family:&quot;Liberation Sans&quot;,sans-serif;font-size:28px;font-style:italic;" fill="#231f20" stroke="#fff" stroke-width="0.35" paint-order="fill stroke">6</text><path d="M620.9,687.4L616.6,706.5M620.8,687.7Q618.8,690.3 614.5,690.6" stroke="#231f20" stroke-width="1.9" fill="none"/><path d="M646.4,686.1V692.7M650.05,686.1V692.7" stroke="#231f20" stroke-width="1.9" stroke-linecap="round" fill="none"/><path d="M0.5,0H1100V734H0.5Z M5.5,4.6V729.1H1095V4.6Z" fill="#231f20" fill-rule="evenodd"/></svg></body></html>
